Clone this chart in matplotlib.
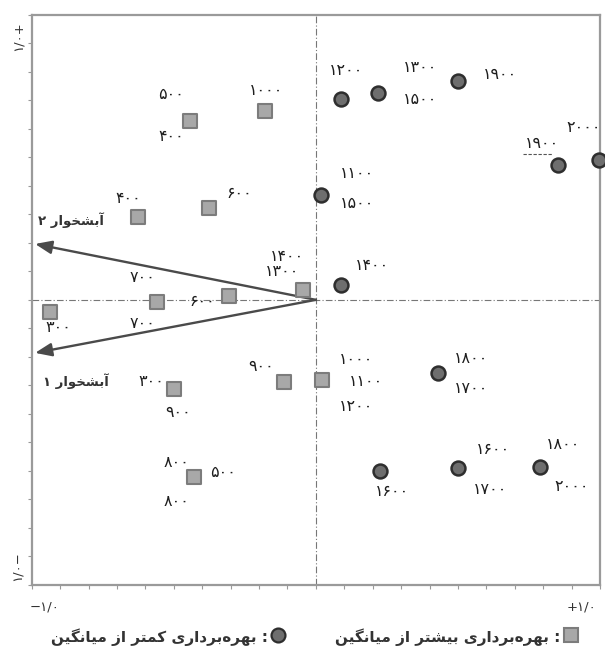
import matplotlib
matplotlib.use("Agg")
import matplotlib.pyplot as plt

# data: biplot scores (squares = above average use, circles = below average use)
sq_x = [-0.443, -0.179, -0.626, -0.376, -0.306, -0.559, -0.936, -0.045, -0.499, -0.112, 0.022, -0.429]
sq_y = [0.627, 0.662, 0.290, 0.322, 0.014, -0.008, -0.043, 0.035, -0.313, -0.288, -0.281, -0.621]
sq_labels = [["۵۰۰", "۴۰۰"], ["۱۰۰۰"], ["۴۰۰"], ["۶۰۰"], ["۶۰۰"], ["۷۰۰", "۷۰۰"], ["۳۰۰"],
             ["۱۴۰۰", "۱۳۰۰"], ["۳۰۰", "۹۰۰"], ["۹۰۰"], ["۱۰۰۰", "۱۱۰۰", "۱۲۰۰"], ["۸۰۰", "۵۰۰", "۸۰۰"]]

ci_x = [0.088, 0.218, 0.500, 0.852, 0.995, 0.018, 0.088, 0.430, 0.225, 0.500, 0.789]
ci_y = [0.704, 0.725, 0.768, 0.473, 0.490, 0.368, 0.052, -0.257, -0.600, -0.590, -0.586]
ci_labels = [["۱۲۰۰"], ["۱۳۰۰", "۱۵۰۰"], ["۱۹۰۰"], ["۱۹۰۰"], ["۲۰۰۰"], ["۱۱۰۰", "۱۵۰۰"], ["۱۴۰۰"],
             ["۱۸۰۰", "۱۷۰۰"], ["۱۶۰۰"], ["۱۶۰۰", "۱۷۰۰"], ["۱۸۰۰", "۲۰۰۰"]]

arrow_x = [-0.988, -0.988]
arrow_y = [0.196, -0.186]
arrow_names = ["آبشخوار ۲", "آبشخوار ۱"]

legend_texts = ["بهره‌برداری بیشتر از میانگین", "بهره‌برداری کمتر از میانگین"]

# label offsets in pixels (dx right, dy down)
sq_off = [[(-19, -27), (-19, 15)], [(1, -21)], [(-10, -19)], [(30, -15)], [(-27, 6)],
          [(-15, -25), (-15, 21)], [(8, 15)], [(-16, -33), (-21, -18)], [(-23, -8), (4, 23)],
          [(-23, -15)], [(34, -20), (44, 2), (34, 27)], [(-17, -14), (29, -4), (-17, 25)]]
ci_off = [[(5, -29)], [(42, -26), (42, 6)], [(42, -6)], [(-16, -21)], [(-15, -33)],
          [(36, -21), (36, 9)], [(31, -20)], [(33, -15), (33, 15)], [(12, 21)],
          [(35, -19), (32, 21)], [(23, -22), (32, 20)]]

# minimal persian shaping (matplotlib has no RTL / joining)
FORMS = {
    'ا': ('\uFE8D', '\uFE8E', None, None),
    'آ': ('\uFE81', '\uFE82', None, None),
    'د': ('\uFEA9', '\uFEAA', None, None),
    'ر': ('\uFEAD', '\uFEAE', None, None),
    'ز': ('\uFEAF', '\uFEB0', None, None),
    'و': ('\uFEED', '\uFEEE', None, None),
    'ب': ('\uFE8F', '\uFE90', '\uFE91', '\uFE92'),
    'ت': ('\uFE95', '\uFE96', '\uFE97', '\uFE98'),
    'خ': ('\uFEA5', '\uFEA6', '\uFEA7', '\uFEA8'),
    'ش': ('\uFEB5', '\uFEB6', '\uFEB7', '\uFEB8'),
    'م': ('\uFEE1', '\uFEE2', '\uFEE3', '\uFEE4'),
    'ن': ('\uFEE5', '\uFEE6', '\uFEE7', '\uFEE8'),
    'ه': ('\uFEE9', '\uFEEA', '\uFEEB', '\uFEEC'),
    'ی': ('\uFBFC', '\uFBFD', '\uFBFE', '\uFBFF'),
    'ک': ('\uFB8E', '\uFB8F', '\uFB90', '\uFB91'),
    'گ': ('\uFB92', '\uFB93', '\uFB94', '\uFB95'),
}


def shape(s):
    out = []
    for i, ch in enumerate(s):
        if ch == '\u200c':
            continue
        if ch not in FORMS:
            out.append(ch)
            continue
        prev = s[i - 1] if i > 0 else None
        nxt = s[i + 1] if i + 1 < len(s) else None
        jp = prev in FORMS and FORMS[prev][2] is not None
        jn = nxt in FORMS and FORMS[ch][2] is not None
        iso, fin, ini, med = FORMS[ch]
        if jp and jn:
            out.append(med)
        elif jp:
            out.append(fin)
        elif jn:
            out.append(ini)
        else:
            out.append(iso)
    return ''.join(reversed(out))


W, H = 605, 650
fig = plt.figure(figsize=(W / 100, H / 100), dpi=100)
L, R, T, B = 31.7, 600, 14.7, 585
ax = fig.add_axes([L / W, 1 - B / H, (R - L) / W, (B - T) / H])


def fx(px, py):
    return px / W, 1 - py / H


ax.set_xlim(-1, 1)
ax.set_ylim(-1, 1)
for sp in ax.spines.values():
    sp.set_color("#9a9a9a")
    sp.set_linewidth(1.6)
ticks = [i / 10 for i in range(-10, 11)]
ax.set_xticks(ticks)
ax.set_yticks(ticks)
ax.set_xticklabels([])
ax.set_yticklabels([])
ax.tick_params(direction="out", length=3, width=0.8, color="#999999", top=False, right=False)

ax.axhline(0, color="#777777", lw=0.8, ls=(0, (6, 2, 1, 2)), zorder=1)
ax.axvline(0, color="#777777", lw=0.8, ls=(0, (6, 2, 1, 2)), zorder=1)

for ex, ey in zip(arrow_x, arrow_y):
    ax.annotate("", xy=(ex, ey), xytext=(0, 0),
                arrowprops=dict(arrowstyle="-|>,head_length=1.0,head_width=0.4",
                                color="#4a4a4a", lw=1.7, shrinkA=0, shrinkB=0), zorder=2)

ax.scatter(sq_x, sq_y, marker="s", s=110, c="#a8a8a8", edgecolors="#7c7c7c", linewidths=1.5, zorder=3)
ax.scatter(ci_x, ci_y, marker="o", s=100, c="#6e6e6e", edgecolors="#2e2e2e", linewidths=1.8,
           zorder=3, clip_on=False)

lab_kw = dict(textcoords="offset pixels", ha="center", va="center", fontsize=11.5,
              color="#1e1e1e", family="DejaVu Sans", annotation_clip=False)
for x, y, labs, offs in zip(sq_x, sq_y, sq_labels, sq_off):
    for t, (dx, dy) in zip(labs, offs):
        ax.annotate(t, (x, y), xytext=(dx, -dy), **lab_kw)
for x, y, labs, offs in zip(ci_x, ci_y, ci_labels, ci_off):
    for t, (dx, dy) in zip(labs, offs):
        ax.annotate(t, (x, y), xytext=(dx, -dy), **lab_kw)

# dotted underline under one label
fig.add_artist(plt.Line2D([523 / W, 553 / W], [1 - 154 / H, 1 - 154 / H], color="#555555",
                          lw=0.8, ls=(0, (3, 1.5))))

# arrow names
for (px, py), name in zip([(71, 220), (76, 381)], arrow_names):
    fig.text(*fx(px, py), shape(name), ha="center", va="center", fontsize=9.5,
             fontweight="bold", color="#333333")

# axis end labels
fig.text(*fx(45, 607), "−۱/۰", ha="center", va="center", fontsize=9.5, color="#333333")
fig.text(*fx(582, 607), "+۱/۰", ha="center", va="center", fontsize=9.5, color="#333333")
fig.text(*fx(18, 36), "۱/۰+", ha="center", va="center", fontsize=9.5, color="#333333", rotation=90)
fig.text(*fx(17, 566), "۱/۰−", ha="center", va="center", fontsize=9.5, color="#333333", rotation=90)

# legend
fig.text(*fx(560, 637), shape(legend_texts[0]) + " :", ha="right", va="center", fontsize=11,
         fontweight="bold", color="#333333")
fig.text(*fx(268, 637), shape(legend_texts[1]) + " :", ha="right", va="center", fontsize=11,
         fontweight="bold", color="#333333")
fig.add_artist(plt.Line2D([571 / W], [1 - 635 / H], marker="s", markersize=10, color="#a8a8a8",
                          markeredgecolor="#7c7c7c", markeredgewidth=1.5))
fig.add_artist(plt.Line2D([278 / W], [1 - 635 / H], marker="o", markersize=10, color="#6e6e6e",
                          markeredgecolor="#2e2e2e", markeredgewidth=1.6))

fig.savefig("out.png", dpi=100, facecolor="white")
